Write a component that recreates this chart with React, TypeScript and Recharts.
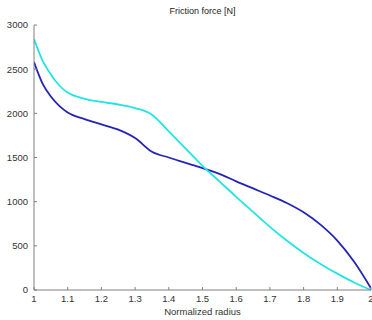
import React from 'react';
import { LineChart, Line, XAxis, YAxis } from 'recharts';

const radius = [1, 1.025, 1.05, 1.075, 1.1, 1.15, 1.2, 1.25, 1.3, 1.35, 1.4, 1.45, 1.5, 1.55, 1.6, 1.65, 1.7, 1.75, 1.8, 1.85, 1.9, 1.95, 2];
const cyanForce = [2840, 2600, 2440, 2315, 2235, 2165, 2130, 2100, 2060, 1985, 1795, 1600, 1405, 1230, 1055, 885, 715, 560, 420, 295, 185, 85, 0];
const blueForce = [2580, 2340, 2190, 2085, 2010, 1935, 1875, 1815, 1720, 1565, 1500, 1440, 1380, 1315, 1230, 1150, 1070, 985, 880, 740, 560, 320, 20];
const xTicks = [1, 1.1, 1.2, 1.3, 1.4, 1.5, 1.6, 1.7, 1.8, 1.9, 2];
const yTicks = [0, 500, 1000, 1500, 2000, 2500, 3000];

const data = radius.map((r, i) => ({ r, cyan: cyanForce[i], blue: blueForce[i] }));

const font = 'Liberation Sans, Arial, sans-serif';
const tickStyle = { fontSize: 9.5, fill: '#333', fontFamily: font };

export default function App() {
  return (
    <div style={{ position: 'absolute', left: 0, top: 0, width: 372, height: 320, background: '#fff' }}>
      <div style={{ position: 'absolute', left: 0, top: 6, width: 405, textAlign: 'center', fontSize: 9, fontFamily: font, color: '#222' }}>
        Friction force [N]
      </div>
      <LineChart width={372} height={320} data={data} margin={{ top: 25, right: 1, left: 0, bottom: 0 }}>
        <XAxis
          dataKey="r"
          type="number"
          domain={[1, 2]}
          ticks={xTicks}
          tickFormatter={(v: number) => String(v)}
          height={30}
          tickSize={-3}
          tickMargin={8}
          stroke="#808080"
          tick={tickStyle}
          interval={0}
          allowDataOverflow
          label={{ value: 'Normalized radius', position: 'insideBottom', offset: 5, style: { fontSize: 9.5, fill: '#333', fontFamily: font } }}
        />
        <YAxis
          type="number"
          domain={[0, 3000]}
          ticks={yTicks}
          width={34}
          tickSize={-3}
          tickMargin={9}
          stroke="#808080"
          tick={tickStyle}
          interval={0}
        />
        <Line type="monotone" dataKey="blue" stroke="#2424b8" strokeWidth={1.8} dot={false} isAnimationActive={false} />
        <Line type="monotone" dataKey="cyan" stroke="#22e4e4" strokeWidth={1.8} dot={false} isAnimationActive={false} />
      </LineChart>
    </div>
  );
}
